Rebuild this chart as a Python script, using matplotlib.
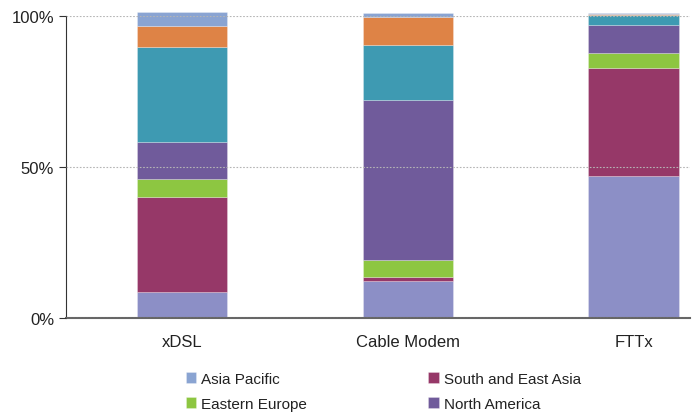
import numpy as np
import matplotlib.pyplot as plt

plt.rcParams['font.family'] = ['Liberation Sans', 'DejaVu Sans']

categories = ['xDSL', 'Cable Modem', 'FTTx']

# share of subscribers (%) per region, stacked bottom to top
china = [8.7, 12.3, 47.3]
south_east_asia = [31.6, 1.3, 35.6]
eastern_europe = [5.9, 5.9, 4.9]
north_america = [12.1, 52.7, 9.2]
western_europe = [31.4, 18.4, 3.4]
latin_america = [7.2, 9.3, 0.4]
asia_pacific = [4.4, 1.2, 0.3]

series = [
    ('China', china, '#8C8FC6'),
    ('South and East Asia', south_east_asia, '#963868'),
    ('Eastern Europe', eastern_europe, '#8DC641'),
    ('North America', north_america, '#705B9B'),
    ('Western Europe', western_europe, '#3E9AB2'),
    ('Latin America', latin_america, '#DE8346'),
    ('Asia Pacific', asia_pacific, '#8AA4D2'),
]

fig = plt.figure(figsize=(6.93, 4.14), dpi=100)
ax = fig.add_axes([0.0952, 0.2283, 0.9005, 0.7299])

x = np.arange(len(categories))
bottom = np.zeros(len(categories))
handles = {}
for name, vals, col in series:
    b = ax.bar(x, vals, width=0.4, bottom=bottom, color=col,
               edgecolor=(1, 1, 1, 0.45), linewidth=0.4, clip_on=False, zorder=2)
    handles[name] = b
    bottom += np.array(vals)

ax.set_xlim(-0.513, 2.25)
ax.set_ylim(0, 100)
ax.set_yticks([0, 50, 100])
ax.set_yticklabels(['0%', '50%', '100%'])
ax.set_xticks(x)
ax.set_xticklabels(categories)
ax.tick_params(axis='y', direction='out', length=5, color='#333333',
               labelsize=12, labelcolor='#222222', pad=3.5)
ax.tick_params(axis='x', length=0, labelsize=12, labelcolor='#222222', pad=11)

ax.yaxis.grid(True, linestyle=(0, (1.5, 1.5)), color='#b5b5b5', linewidth=0.8, zorder=3)
ax.set_axisbelow(False)

for s in ['top', 'right']:
    ax.spines[s].set_visible(False)
ax.spines['left'].set_color('#333333')
ax.spines['left'].set_linewidth(0.8)
ax.spines['bottom'].set_color('#666666')
ax.spines['bottom'].set_linewidth(1.5)

order = ['Asia Pacific', 'Eastern Europe', 'South and East Asia', 'North America']
leg = fig.legend([handles[n] for n in order], order, ncol=2,
                 loc='upper left', bbox_to_anchor=(0.268, 0.1),
                 frameon=False, fontsize=11, handlelength=0.7, handleheight=0.7,
                 handletextpad=0.3, columnspacing=7.95, labelspacing=0.75,
                 borderaxespad=0, borderpad=0)
for t in leg.get_texts():
    t.set_color('#222222')

fig.savefig('out.png', dpi=100)
